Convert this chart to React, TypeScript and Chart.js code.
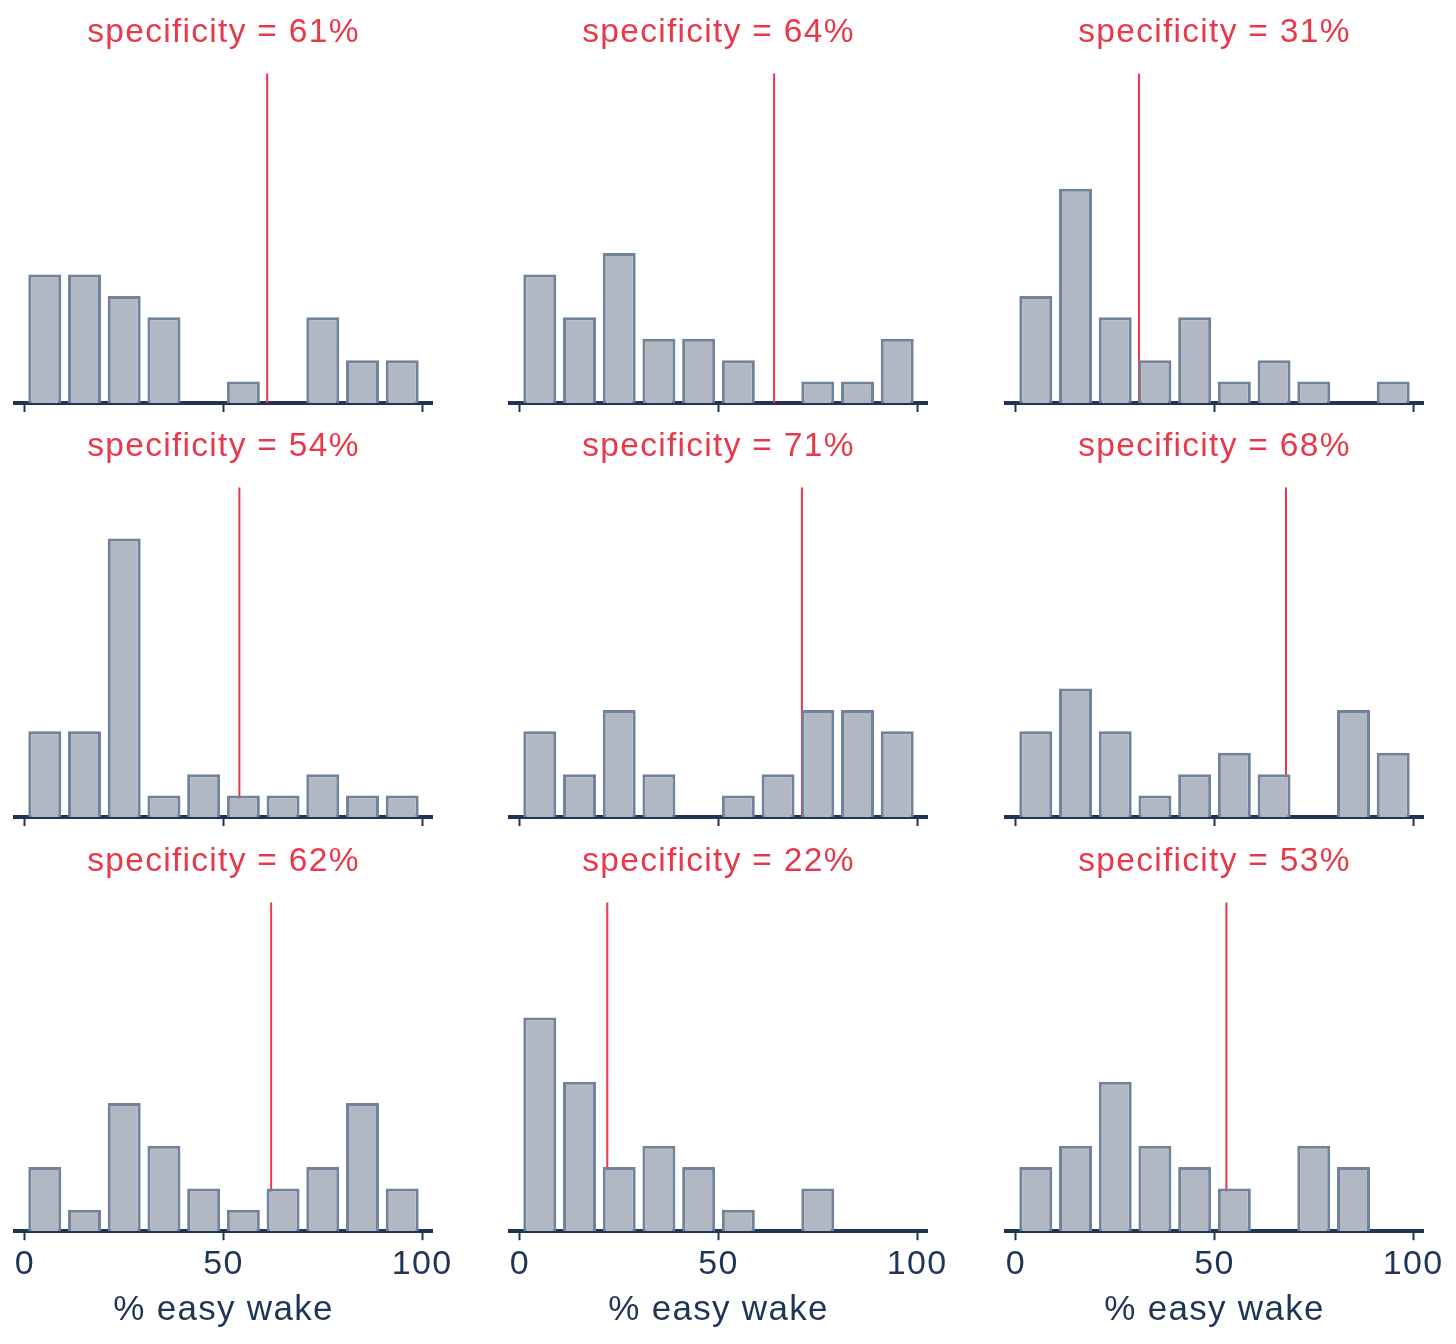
import { useEffect, useRef } from "react";
import { Chart, registerables } from "chart.js";

Chart.register(...registerables);

// bins of 10 percentage points, counts out of 30 per panel
const binCenters = [5, 15, 25, 35, 45, 55, 65, 75, 85, 95];
const xTicks = [0, 50, 100];
const specificity = [61, 64, 31, 54, 71, 68, 62, 22, 53];

const counts1 = [6, 6, 5, 4, 0, 1, 0, 4, 2, 2];
const counts2 = [6, 4, 7, 3, 3, 2, 0, 1, 1, 3];
const counts3 = [5, 10, 4, 2, 4, 1, 2, 1, 0, 1];
const counts4 = [4, 4, 13, 1, 2, 1, 1, 2, 1, 1];
const counts5 = [4, 2, 5, 2, 0, 1, 2, 5, 5, 4];
const counts6 = [4, 6, 4, 1, 2, 3, 2, 0, 5, 3];
const counts7 = [3, 1, 6, 4, 2, 1, 2, 3, 6, 2];
const counts8 = [10, 7, 3, 4, 3, 1, 0, 2, 0, 0];
const counts9 = [3, 4, 7, 4, 3, 2, 0, 4, 3, 0];
const panels = [counts1, counts2, counts3, counts4, counts5, counts6, counts7, counts8, counts9];

const RED = "#e8394b";
const NAVY = "#1f3556";
const FONT = "'Liberation Sans', Arial, sans-serif";
const Y_MAX = 15.4;

const colLeft = [0, 496, 992];
const rowTop = [0, 414, 829];
const padLeft = [15, 14, 14];
const padRight = [64, 65, 65];

// the reference text runs a little wide, so space the letters out a touch
const wideText = {
  id: "wideText",
  beforeDraw(chart: Chart) {
    (chart.ctx as any).letterSpacing = "1.3px";
  },
};

function Panel({ index }: { index: number }) {
  const canvasRef = useRef<HTMLCanvasElement>(null);
  const col = index % 3;
  const row = Math.floor(index / 3);
  const bottomRow = row === 2;
  const width = 496;
  const height = bottomRow ? 515 : 414;

  useEffect(() => {
    const canvas = canvasRef.current;
    if (!canvas) return;
    const counts = panels[index];
    const s = specificity[index];

    const chart = new Chart(canvas, {
      type: "bar",
      data: {
        datasets: [
          {
            type: "bar",
            data: binCenters.map((c, i) => ({ x: c, y: counts[i] })),
            backgroundColor: "#b1b8c4",
            borderColor: "#71839b",
            borderWidth: 3,
            barPercentage: 0.83,
            categoryPercentage: 1,
          },
          {
            type: "line",
            data: [
              { x: s, y: 0 },
              { x: s, y: Y_MAX },
            ],
            borderColor: RED,
            borderWidth: 2,
            pointRadius: 0,
          },
        ],
      } as any,
      options: {
        responsive: false,
        animation: false,
        layout: { padding: { left: padLeft[col], right: padRight[col], top: 0, bottom: bottomRow ? 5 : 2 } },
        plugins: {
          legend: { display: false },
          tooltip: { enabled: false },
          title: {
            display: true,
            text: `specificity = ${s}%`,
            color: RED,
            font: { family: FONT, size: 33.5, weight: "normal" },
            padding: { top: 13, bottom: 20 },
          },
        },
        scales: {
          x: {
            type: "linear",
            min: -2.5,
            max: 102.5,
            offset: false,
            afterBuildTicks: (scale) => {
              scale.ticks = xTicks.map((v) => ({ value: v }));
            },
            grid: {
              offset: false,
              drawOnChartArea: false,
              drawTicks: true,
              tickLength: 9,
              tickWidth: 2,
              tickColor: NAVY,
            },
            border: { display: true, color: NAVY, width: 4 },
            ticks: {
              display: bottomRow,
              color: NAVY,
              padding: 4,
              font: { family: FONT, size: 34 },
              maxRotation: 0,
            },
            title: {
              display: bottomRow,
              text: "% easy wake",
              color: NAVY,
              font: { family: FONT, size: 35 },
              padding: { top: 0, bottom: 8 },
            },
          },
          y: { display: false, min: 0, max: Y_MAX },
        },
      },
      plugins: [wideText],
    });

    return () => chart.destroy();
  }, [index]);

  return (
    <canvas
      ref={canvasRef}
      width={width}
      height={height}
      style={{ position: "absolute", left: colLeft[col], top: rowTop[row], width, height }}
    />
  );
}

export default function App() {
  return (
    <div style={{ position: "absolute", left: 0, top: 0, width: 1456, height: 1344, background: "#fff" }}>
      {panels.map((_, i) => (
        <Panel key={i} index={i} />
      ))}
    </div>
  );
}
